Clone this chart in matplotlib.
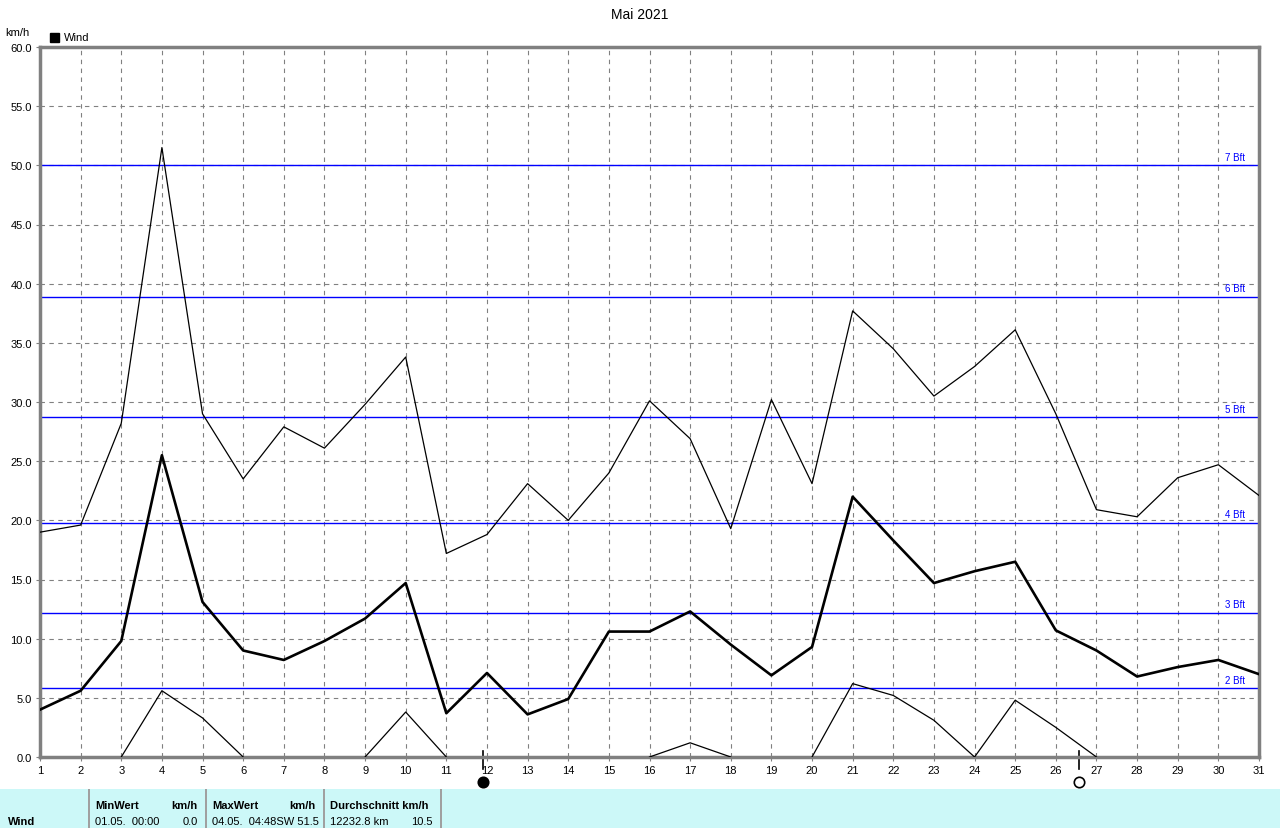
import numpy as np
import matplotlib.pyplot as plt
from matplotlib.patches import Rectangle

plt.rcParams['font.family'] = ['Liberation Sans', 'DejaVu Sans']

days = np.arange(1, 32)
wind_max = [19.0, 19.6, 28.2, 51.5, 29.0, 23.5, 27.9, 26.1, 29.8, 33.8, 17.2,
            18.8, 23.1, 20.0, 24.0, 30.1, 26.9, 19.3, 30.2, 23.1, 37.7, 34.5,
            30.5, 33.0, 36.1, 29.0, 20.9, 20.3, 23.6, 24.7, 22.1]
wind_mean = [4.0, 5.6, 9.8, 25.5, 13.1, 9.0, 8.2, 9.8, 11.7, 14.7, 3.7,
             7.1, 3.6, 4.9, 10.6, 10.6, 12.3, 9.5, 6.9, 9.3, 22.0, 18.3,
             14.7, 15.7, 16.5, 10.7, 9.0, 6.8, 7.6, 8.2, 7.0]
wind_min = [0.0, 0.0, 0.0, 5.6, 3.3, 0.0, 0.0, 0.0, 0.0, 3.8, 0.0,
            0.0, 0.0, 0.0, 0.0, 0.0, 1.2, 0.0, 0.0, 0.0, 6.2, 5.2,
            3.1, 0.0, 4.8, 2.5, 0.0, 0.0, 0.0, 0.0, 0.0]
bft_levels = [5.8, 12.2, 19.8, 28.7, 38.9, 50.0]
bft_labels = ['2 Bft', '3 Bft', '4 Bft', '5 Bft', '6 Bft', '7 Bft']
new_moon = 11.9
full_moon = 26.57

W, H = 1280, 829
fig = plt.figure(figsize=(W / 100, H / 100), dpi=100)
ax = fig.add_axes([40 / W, 71 / H, 1219 / W, 710 / H])

# min line: hide the runs of zero
mn = np.array(wind_min)
keep = mn > 0
keep[1:] |= mn[:-1] > 0
keep[:-1] |= mn[1:] > 0
mn_plot = np.where(keep, mn, np.nan)

for lvl, lab in zip(bft_levels, bft_labels):
    ax.axhline(lvl, color='#0000ff', lw=1, zorder=2)
    ax.text(30.65, lvl + 0.3, lab, color='#0000ff', fontsize=7, ha='right', va='bottom')

ax.plot(days, wind_max, color='black', lw=0.9, zorder=3)
ax.plot(days, wind_mean, color='black', lw=1.9, zorder=3)
ax.plot(days, mn_plot, color='black', lw=0.9, zorder=3)

ax.set_xlim(1, 31)
ax.set_ylim(0, 60)
ax.set_xticks(days)
ax.set_yticks(np.arange(0, 60.1, 5))
ax.set_yticklabels([f'{v:.1f}' for v in np.arange(0, 60.1, 5)])
ax.grid(True, color='#808080', ls=(0, (4, 4)), lw=0.8)
ax.tick_params(labelsize=8, length=3, color='#808080', pad=3)
for s in ax.spines.values():
    s.set_color('#808080')
    s.set_linewidth(2.5)

# moon phases
for d, fc in [(new_moon, 'black'), (full_moon, 'white')]:
    ax.plot([d, d], [0.5, -1.0], color='black', lw=1.2, clip_on=False)
    ax.plot(d, -2.1, 'o', ms=7.5, mfc=fc, mec='black', mew=1.2, clip_on=False)

fig.text(640 / W, 1 - 15 / H, 'Mai 2021', ha='center', va='center', fontsize=10)
fig.text(5 / W, 1 - 33 / H, 'km/h', ha='left', va='center', fontsize=8)
fig.patches.append(Rectangle((50 / W, 1 - 43 / H), 9 / W, 9 / H, transform=fig.transFigure,
                             facecolor='black', edgecolor='black'))
fig.text(64 / W, 1 - 38 / H, 'Wind', ha='left', va='center', fontsize=8)

# summary table
fig.patches.append(Rectangle((0, 0), 1, 39 / H, transform=fig.transFigure,
                             facecolor='#ccf8f8', edgecolor='none'))
for xs in [88, 205, 323, 440]:
    fig.patches.append(Rectangle((xs / W, 0), 2 / W, 39 / H, transform=fig.transFigure,
                                 facecolor='#a0a0a0', edgecolor='none'))
r1 = 1 - 806 / H
r2 = 1 - 822 / H
fig.text(8 / W, r2, 'Wind', fontsize=8, fontweight='bold', va='center')
fig.text(95 / W, r1, 'MinWert', fontsize=8, fontweight='bold', va='center')
fig.text(198 / W, r1, 'km/h', fontsize=8, fontweight='bold', va='center', ha='right')
fig.text(212 / W, r1, 'MaxWert', fontsize=8, fontweight='bold', va='center')
fig.text(316 / W, r1, 'km/h', fontsize=8, fontweight='bold', va='center', ha='right')
fig.text(330 / W, r1, 'Durchschnitt km/h', fontsize=8, fontweight='bold', va='center')
fig.text(95 / W, r2, '01.05.  00:00', fontsize=8, va='center')
fig.text(198 / W, r2, '0.0', fontsize=8, va='center', ha='right')
fig.text(212 / W, r2, '04.05.  04:48SW 51.5', fontsize=8, va='center')
fig.text(330 / W, r2, '12232.8 km', fontsize=8, va='center')
fig.text(433 / W, r2, '10.5', fontsize=8, va='center', ha='right')

fig.savefig('out.png', dpi=100)
